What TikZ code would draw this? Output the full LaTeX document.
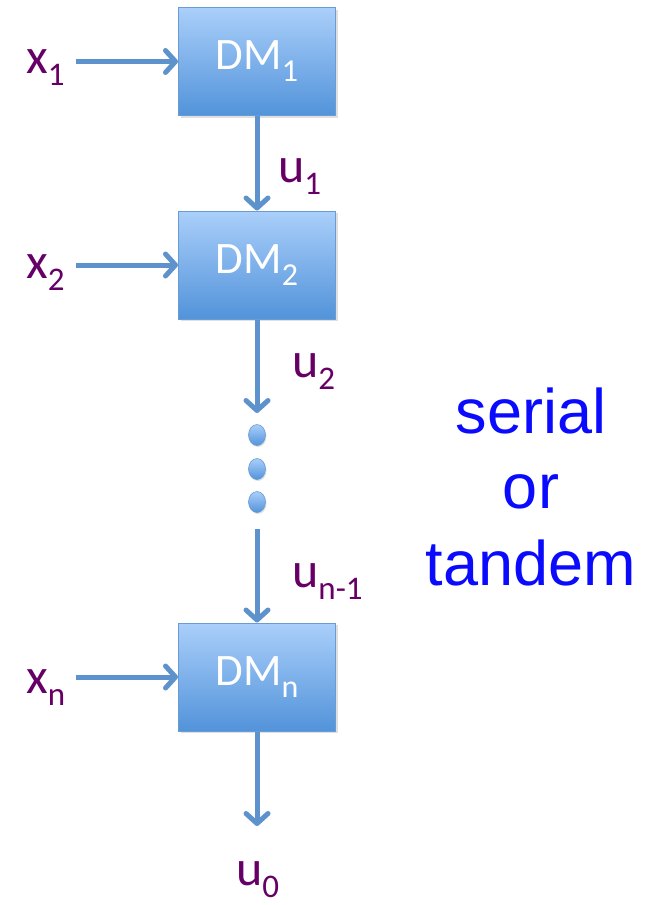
\documentclass[tikz,border=0pt]{standalone}
\usepackage{fontspec}
\setmainfont{Carlito}
\newfontfamily\arialfont{Liberation Sans}
\usetikzlibrary{arrows.meta,shapes.geometric,shadows}

\definecolor{flow}{RGB}{94,146,204}
\definecolor{boxtop}{RGB}{170,207,250}
\definecolor{boxbot}{RGB}{82,147,218}
\definecolor{boxedge}{RGB}{105,155,212}
\definecolor{labpurple}{RGB}{102,0,102}
\definecolor{noteblue}{RGB}{10,10,255}

% label with a lowered subscript
\newcommand{\symsub}[2]{{\fontsize{50}{50}\selectfont #1}\raisebox{-12pt}{\fontsize{33}{33}\selectfont #2}}
\newcommand{\dmsub}[1]{{\fontsize{45}{45}\selectfont DM}\raisebox{-12pt}{\fontsize{32}{32}\selectfont #1}}

\tikzset{
  dmbox/.style={draw=boxedge, line width=1pt, top color=boxtop, bottom color=boxbot,
    minimum width=157pt, minimum height=108pt, inner sep=0pt, text=white,
    drop shadow={opacity=0.25, shadow xshift=2pt, shadow yshift=-2pt}},
  dot/.style={ellipse, draw=boxedge, line width=0.6pt, top color=boxtop, bottom color=boxbot,
    minimum width=17pt, minimum height=21pt, inner sep=0pt,
    drop shadow={opacity=0.25, shadow xshift=1pt, shadow yshift=-1.5pt}},
  flowarrow/.style={draw=flow, line width=5pt,
    -{Straight Barb[length=10pt, width=22pt, line cap=round, line join=round]}},
  sym/.style={text=labpurple, inner sep=0pt, anchor=base west},
  note/.style={text=noteblue, inner sep=0pt, anchor=base, font=\arialfont\fontsize{63}{63}\selectfont}
}

\begin{document}
\begin{tikzpicture}[x=1pt, y=-1pt]
  \useasboundingbox (0,0) rectangle (650,905);

  % decision makers
  \node[dmbox] (dm1) at (257,61.5) {\dmsub{1}};
  \node[dmbox] (dm2) at (257,265) {\dmsub{2}};
  \node[dmbox] (dmn) at (257,677) {\dmsub{n}};

  % ellipsis between stages
  \node[dot] (d1) at (257,435) {};
  \node[dot] (d2) at (257,469) {};
  \node[dot] (d3) at (257,502) {};
  \coordinate (dotsin) at (257,413);
  \coordinate (dotsout) at (257,529);
  \coordinate (out) at (257,826);

  % inputs
  \node[sym] (x1) at (26,73) {\symsub{x}{1}};
  \node[sym] (x2) at (26,278) {\symsub{x}{2}};
  \node[sym] (xn) at (26,693) {\symsub{x}{n}};

  % messages
  \node[sym] (u1) at (278,182) {\symsub{u}{1}};
  \node[sym] (u2) at (292,377) {\symsub{u}{2}};
  \node[sym] (un) at (292,587) {\symsub{u}{n-1}};
  \node[sym] (u0) at (236,885) {\symsub{u}{0}};

  % connectors
  \draw[flowarrow] ([xshift=-102pt]dm1.west) -- (dm1.west);
  \draw[flowarrow] ([xshift=-102pt]dm2.west) -- (dm2.west);
  \draw[flowarrow] ([xshift=-102pt]dmn.west) -- (dmn.west);
  \draw[flowarrow] (dm1.south) -- (dm2.north);
  \draw[flowarrow] (dm2.south) -- (dotsin);
  \draw[flowarrow] (dotsout) -- (dmn.north);
  \draw[flowarrow] (dmn.south) -- (out);

  % caption
  \node[note] (t1) at (531,433) {serial};
  \node[note] (t2) at (531,508) {or};
  \node[note] (t3) at (531,585) {tandem};
\end{tikzpicture}
\end{document}
